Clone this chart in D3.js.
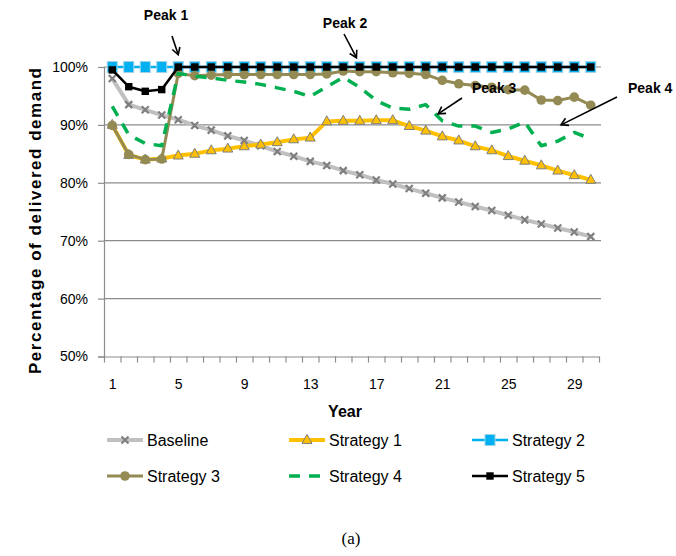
<!DOCTYPE html>
<html>
<head>
<meta charset="utf-8">
<script src="https://cdn.jsdelivr.net/npm/d3@7"></script>
<style>
  html, body { margin: 0; padding: 0; background: #fff; }
  svg { display: block; font-family: "Liberation Sans", Arial, sans-serif; }
</style>
</head>
<body>
<svg id="chart" width="676" height="556"></svg>
<script>
// Years of the planning horizon
const years = [1,2,3,4,5,6,7,8,9,10,11,12,13,14,15,16,17,18,19,20,21,22,23,24,25,26,27,28,29,30];
const yearLabels = [1,5,9,13,17,21,25,29];
const percentTicks = [50,60,70,80,90,100];

// Percentage of delivered demand per year
const baseline   = [98.0,93.5,92.6,91.7,90.9,89.9,89.1,88.1,87.3,86.4,85.4,84.6,83.7,83.0,82.1,81.4,80.5,79.8,79.0,78.2,77.4,76.7,75.9,75.2,74.4,73.6,72.9,72.2,71.5,70.7];
const strategy1  = [90.0,84.8,84.0,84.2,84.7,85.0,85.6,85.9,86.3,86.6,87.0,87.5,87.8,90.6,90.7,90.7,90.8,90.8,89.8,89.0,88.0,87.3,86.3,85.6,84.6,83.8,83.0,82.1,81.3,80.5];
const strategy2  = [100,100,100,100,100,100,100,100,100,100,100,100,100,100,100,100,100,100,100,100,100,100,100,100,100,100,100,100,100,100];
const strategy3  = [89.9,84.9,84.0,84.1,98.9,98.5,98.6,98.7,98.7,98.7,98.7,98.7,98.7,98.8,99.3,99.2,99.2,99.0,98.9,98.7,97.7,97.1,96.8,96.5,96.1,96.0,94.3,94.2,94.8,93.4];
const strategy4  = [93.2,88.3,86.8,86.4,98.9,98.4,98.1,97.7,97.4,97.0,96.4,95.8,94.9,96.6,98.2,96.5,94.2,92.9,92.7,93.5,90.7,89.8,89.8,88.7,89.3,90.5,86.4,87.2,88.7,87.6];
const strategy5  = [99.5,96.6,95.8,96.1,100,100,100,100,100,100,100,100,100,100,100,100,100,100,100,100,100,100,100,100,100,100,100,100,100,100];

const seriesNames = ["Baseline","Strategy 1","Strategy 2","Strategy 3","Strategy 4","Strategy 5"];
const seriesValues = [baseline, strategy1, strategy2, strategy3, strategy4, strategy5];

// Peak callouts: arrow tip in data units (year, percent)
const peakNames = ["Peak 1","Peak 2","Peak 3","Peak 4"];
const peakYears = [5, 15.8, 20.75, 28.2];
const peakValues = [102.1, 101.6, 91.9, 90.0];

const styles = [
  { color: "#c0c0c0", width: 4,   dash: null,   marker: "x" },
  { color: "#ffc000", width: 4,   dash: null,   marker: "triangle" },
  { color: "#00b0f0", width: 2.5, dash: null,   marker: "bigsquare" },
  { color: "#948a54", width: 3,   dash: null,   marker: "circle" },
  { color: "#00b050", width: 3.5, dash: "11,9", marker: null },
  { color: "#000000", width: 2.5, dash: null,   marker: "square" }
];

const svg = d3.select("#chart");
const plotLeft = 104, plotRight = 601, plotTop = 67, plotBottom = 356.5;

const x = d3.scaleLinear().domain([0.5, 30.5]).range([plotLeft, 599]);
const y = d3.scaleLinear().domain([50, 100]).range([plotBottom, plotTop]);

// Horizontal gridlines
svg.append("g").selectAll("line")
  .data(percentTicks.filter(d => d > 50))
  .join("line")
  .attr("x1", plotLeft).attr("x2", plotRight)
  .attr("y1", d => y(d)).attr("y2", d => y(d))
  .attr("stroke", "#8c8c8c").attr("stroke-width", 1.2);

// Y axis
const yAxis = svg.append("g")
  .attr("transform", `translate(${plotLeft},0)`)
  .call(d3.axisLeft(y).tickValues(percentTicks).tickFormat(d => d + "%").tickSize(6).tickPadding(10));
yAxis.select(".domain").attr("stroke", "#8c8c8c").attr("stroke-width", 1.2);
yAxis.selectAll(".tick line").attr("stroke", "#8c8c8c").attr("stroke-width", 1.2);
yAxis.selectAll(".tick text").attr("font-size", 14).attr("fill", "#000")
  .attr("font-family", "'Liberation Sans', Arial, sans-serif");

// X axis: tick marks on year boundaries, labels every fourth year
const boundaries = years.map(d => d - 0.5).concat([30.5]);
const xAxis = svg.append("g")
  .attr("transform", `translate(0,${plotBottom})`)
  .call(d3.axisBottom(x).tickValues(boundaries).tickFormat("").tickSize(6).tickSizeOuter(0));
xAxis.select(".domain").attr("stroke", "#8c8c8c").attr("stroke-width", 1.2);
xAxis.selectAll(".tick line").attr("stroke", "#8c8c8c").attr("stroke-width", 1.2);

const xLabels = svg.append("g")
  .attr("transform", `translate(0,${plotBottom})`)
  .call(d3.axisBottom(x).tickValues(yearLabels).tickFormat(d3.format("d")).tickSize(0).tickPadding(23));
xLabels.select(".domain").remove();
xLabels.selectAll(".tick text").attr("font-size", 14).attr("fill", "#000")
  .attr("font-family", "'Liberation Sans', Arial, sans-serif");

// Axis titles
svg.append("text")
  .attr("x", 345).attr("y", 417)
  .attr("text-anchor", "middle")
  .attr("font-size", 16).attr("font-weight", "bold")
  .text("Year");

svg.append("text")
  .attr("transform", "translate(41,221) rotate(-90)")
  .attr("text-anchor", "middle")
  .attr("font-size", 17).attr("font-weight", "bold")
  .attr("textLength", 306).attr("lengthAdjust", "spacing")
  .text("Percentage of delivered demand");

// Marker drawing
function drawMarker(g, kind, cx, cy) {
  if (kind === "x") {
    const s = 3.5;
    g.append("path")
      .attr("d", `M${cx - s},${cy - s}L${cx + s},${cy + s}M${cx - s},${cy + s}L${cx + s},${cy - s}`)
      .attr("stroke", "#7f7f7f").attr("stroke-width", 2.2).attr("fill", "none");
  } else if (kind === "triangle") {
    const h = 9, w = 10;
    g.append("path")
      .attr("d", `M${cx},${cy - h * 0.62}L${cx + w / 2},${cy + h * 0.38}L${cx - w / 2},${cy + h * 0.38}Z`)
      .attr("fill", "#ffc000").attr("stroke", "#7f7f7f").attr("stroke-width", 1);
  } else if (kind === "bigsquare") {
    g.append("rect")
      .attr("x", cx - 5).attr("y", cy - 5.5).attr("width", 10).attr("height", 11)
      .attr("fill", "#00b0f0").attr("stroke", "#9fd3ea").attr("stroke-width", 1);
  } else if (kind === "circle") {
    g.append("circle").attr("cx", cx).attr("cy", cy).attr("r", 4.8)
      .attr("fill", "#948a54");
  } else if (kind === "square") {
    g.append("rect")
      .attr("x", cx - 3.7).attr("y", cy - 3.7).attr("width", 7.4).attr("height", 7.4)
      .attr("fill", "#000");
  }
}

// Series lines and markers
const line = d3.line().x((d, i) => x(years[i])).y(d => y(d));
seriesValues.forEach((vals, k) => {
  const st = styles[k];
  const g = svg.append("g").attr("class", "series");
  g.append("path")
    .datum(vals)
    .attr("d", line)
    .attr("fill", "none")
    .attr("stroke", st.color)
    .attr("stroke-width", st.width)
    .attr("stroke-linejoin", "round")
    .attr("stroke-dasharray", st.dash);
  if (st.marker) {
    vals.forEach((v, i) => drawMarker(g, st.marker, x(years[i]), y(v)));
  }
});

// Legend
const legendCols = [107, 289, 472];
const legendRows = [440, 476];
seriesNames.forEach((name, k) => {
  const st = styles[k];
  const lx = legendCols[k % 3], ly = legendRows[Math.floor(k / 3)];
  const g = svg.append("g");
  g.append("line")
    .attr("x1", lx).attr("x2", lx + 36).attr("y1", ly).attr("y2", ly)
    .attr("stroke", st.color).attr("stroke-width", st.width)
    .attr("stroke-dasharray", st.dash);
  if (st.marker) drawMarker(g, st.marker, lx + 18, ly);
  g.append("text")
    .attr("x", lx + 40).attr("y", ly + 6)
    .attr("font-size", 16)
    .text(name);
});

// Peak callouts
const peakText = [[166, 20, "middle"], [345, 28, "middle"], [472, 93, "start"], [628, 93, "start"]];
const peakTail = [[172, 36], [344, 34], [462, 98], [617, 97]];
peakNames.forEach((name, k) => {
  const tx = x(peakYears[k]), ty = y(peakValues[k]);
  const [sx, sy] = peakTail[k];
  const ang = Math.atan2(ty - sy, tx - sx);
  const hl = 8, ha = Math.PI / 6;
  const g = svg.append("g");
  g.append("line")
    .attr("x1", sx).attr("y1", sy).attr("x2", tx).attr("y2", ty)
    .attr("stroke", "#000").attr("stroke-width", 1.6);
  g.append("path")
    .attr("d", `M${tx - hl * Math.cos(ang - ha)},${ty - hl * Math.sin(ang - ha)}L${tx},${ty}L${tx - hl * Math.cos(ang + ha)},${ty - hl * Math.sin(ang + ha)}`)
    .attr("fill", "none").attr("stroke", "#000").attr("stroke-width", 1.6);
  g.append("text")
    .attr("x", peakText[k][0]).attr("y", peakText[k][1])
    .attr("text-anchor", peakText[k][2])
    .attr("font-size", 14).attr("font-weight", "bold")
    .text(name);
});

// Caption
svg.append("text")
  .attr("x", 351).attr("y", 544)
  .attr("text-anchor", "middle")
  .attr("font-family", "'Liberation Serif', 'Times New Roman', serif")
  .attr("font-size", 17)
  .text("(a)");
</script>
</body>
</html>
